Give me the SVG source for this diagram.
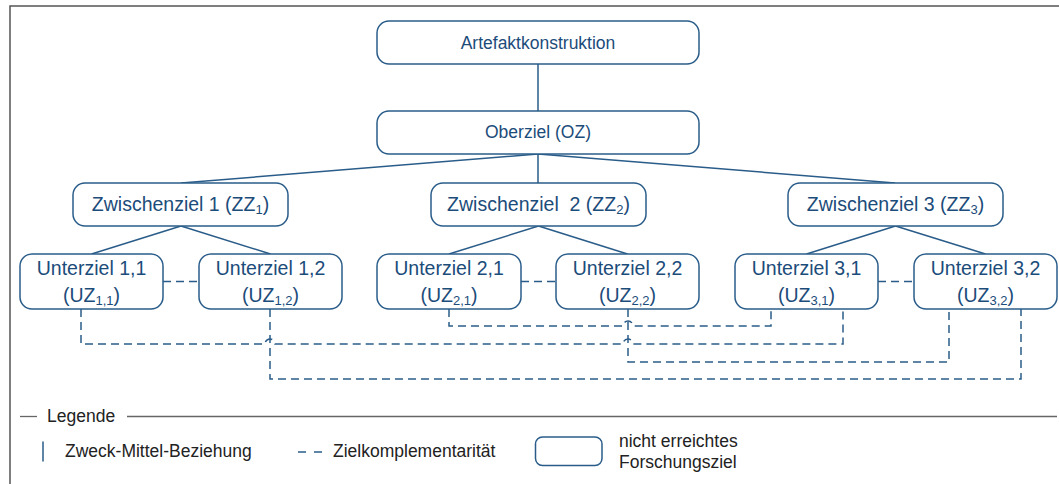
<svg xmlns="http://www.w3.org/2000/svg" width="1059" height="484" viewBox="0 0 1059 484">
  <style>
    .box { fill: #ffffff; stroke: #2a5c89; stroke-width: 1.5; }
    .lbl { font-family: "Liberation Sans", Arial, sans-serif; fill: #1c4c7a; text-anchor: middle; }
    .top { font-size: 17.5px; }
    .mid { font-size: 19.5px; }
    .sub { font-size: 13px; }
    .link { fill: none; stroke: #2a5c89; stroke-width: 1.5; }
    .compl { fill: none; stroke: #2a5c89; stroke-width: 1.5; stroke-dasharray: 8 5; }
    .frame { fill: none; stroke: #555555; stroke-width: 1.5; }
    .legline { fill: none; stroke: #666666; stroke-width: 1.3; }
    .legtxt { font-family: "Liberation Sans", Arial, sans-serif; font-size: 17.5px; fill: #222222; }
  </style>

  <rect x="0" y="0" width="1059" height="484" fill="#ffffff"/>

  <!-- outer frame (open to the right and bottom) -->
  <path class="frame" d="M10 484 V6 H1059"/>

  <!-- connectors -->
  <g id="connectors">
    <!-- purpose-means relations -->
    <path class="link" d="M538 64 V111"/>
    <path class="link" d="M538 154 L181 183"/>
    <path class="link" d="M538 154 V183"/>
    <path class="link" d="M538 154 L895 183"/>
    <path class="link" d="M181 226 L91.5 254"/>
    <path class="link" d="M181 226 L270.5 254"/>
    <path class="link" d="M538.5 226 L449 254"/>
    <path class="link" d="M538.5 226 L627.5 254"/>
    <path class="link" d="M895.5 226 L806.5 254"/>
    <path class="link" d="M895.5 226 L985.5 254"/>
    <!-- complementarity between siblings -->
    <path class="compl" d="M163 281.5 H199"/>
    <path class="compl" d="M521 281.5 H556"/>
    <path class="compl" d="M878 281.5 H914"/>
    <!-- complementarity across branches, with line hops -->
    <path class="compl" d="M81 309 V344 H265 a5 5 0 0 1 10 0 H623 a5 5 0 0 1 10 0 H843 V309"/>
    <path class="compl" d="M270 309 V379 H1021 V309"/>
    <path class="compl" d="M449 309 V326 H623 a5 5 0 0 1 10 0 H771 V309"/>
    <path class="compl" d="M628 309 V362 H949 V309"/>
  </g>

  <g id="artefaktkonstruktion">
    <rect class="box" x="377" y="21" width="322" height="43" rx="12"/>
    <text class="lbl top" x="538" y="48.5">Artefaktkonstruktion</text>
  </g>

  <g id="oberziel">
    <rect class="box" x="377" y="111" width="322" height="43" rx="12"/>
    <text class="lbl top" x="538" y="138">Oberziel (OZ)</text>
  </g>

  <g id="zz1">
    <rect class="box" x="73" y="183" width="215" height="43" rx="12"/>
    <text class="lbl mid" x="180.5" y="211">Zwischenziel 1 (ZZ<tspan class="sub" dy="3">1</tspan><tspan dy="-3">)</tspan></text>
  </g>

  <g id="zz2">
    <rect class="box" x="431" y="183" width="215" height="43" rx="12"/>
    <text class="lbl mid" x="538.5" y="211" xml:space="preserve">Zwischenziel  2 (ZZ<tspan class="sub" dy="3">2</tspan><tspan dy="-3">)</tspan></text>
  </g>

  <g id="zz3">
    <rect class="box" x="788" y="183" width="215" height="43" rx="12"/>
    <text class="lbl mid" x="895.5" y="211">Zwischenziel 3 (ZZ<tspan class="sub" dy="3">3</tspan><tspan dy="-3">)</tspan></text>
  </g>

  <g id="uz11">
    <rect class="box" x="20" y="254" width="143" height="55" rx="12"/>
    <text class="lbl mid" x="91.5" y="275">Unterziel 1,1</text>
    <text class="lbl mid" x="91.5" y="301.5">(UZ<tspan class="sub" dy="3">1,1</tspan><tspan dy="-3">)</tspan></text>
  </g>

  <g id="uz12">
    <rect class="box" x="199" y="254" width="143" height="55" rx="12"/>
    <text class="lbl mid" x="270.5" y="275">Unterziel 1,2</text>
    <text class="lbl mid" x="270.5" y="301.5">(UZ<tspan class="sub" dy="3">1,2</tspan><tspan dy="-3">)</tspan></text>
  </g>

  <g id="uz21">
    <rect class="box" x="377" y="254" width="144" height="55" rx="12"/>
    <text class="lbl mid" x="449" y="275">Unterziel 2,1</text>
    <text class="lbl mid" x="449" y="301.5">(UZ<tspan class="sub" dy="3">2,1</tspan><tspan dy="-3">)</tspan></text>
  </g>

  <g id="uz22">
    <rect class="box" x="556" y="254" width="143" height="55" rx="12"/>
    <text class="lbl mid" x="627.5" y="275">Unterziel 2,2</text>
    <text class="lbl mid" x="627.5" y="301.5">(UZ<tspan class="sub" dy="3">2,2</tspan><tspan dy="-3">)</tspan></text>
  </g>

  <g id="uz31">
    <rect class="box" x="735" y="254" width="143" height="55" rx="12"/>
    <text class="lbl mid" x="806.5" y="275">Unterziel 3,1</text>
    <text class="lbl mid" x="806.5" y="301.5">(UZ<tspan class="sub" dy="3">3,1</tspan><tspan dy="-3">)</tspan></text>
  </g>

  <g id="uz32">
    <rect class="box" x="914" y="254" width="143" height="55" rx="12"/>
    <text class="lbl mid" x="985.5" y="275">Unterziel 3,2</text>
    <text class="lbl mid" x="985.5" y="301.5">(UZ<tspan class="sub" dy="3">3,2</tspan><tspan dy="-3">)</tspan></text>
  </g>

  <!-- legend -->
  <g id="legend">
    <path class="legline" d="M20 416.5 H37"/>
    <text class="legtxt" x="47" y="421.5">Legende</text>
    <path class="legline" d="M127 416.5 H1057"/>

    <path class="link" d="M43 441.5 V461.5"/>
    <text class="legtxt" x="65" y="457">Zweck-Mittel-Beziehung</text>

    <path class="compl" d="M298 452 H322" style="stroke-dasharray: 8 8"/>
    <text class="legtxt" x="333" y="457">Zielkomplementarität</text>

    <rect class="box" x="535.5" y="437" width="66.5" height="28.5" rx="7"/>
    <text class="legtxt" x="619" y="446.5">nicht erreichtes</text>
    <text class="legtxt" x="619" y="468">Forschungsziel</text>
  </g>
</svg>
